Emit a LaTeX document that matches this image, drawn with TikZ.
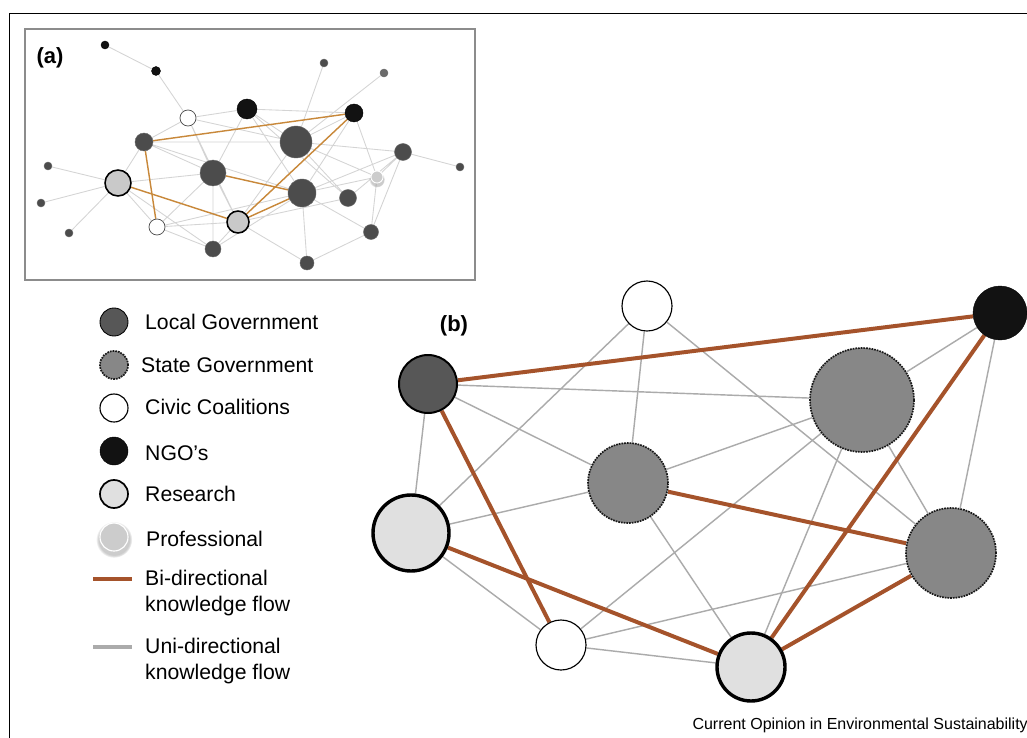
\documentclass[tikz,border=0pt]{standalone}
\usepackage{fontspec}
\setmainfont{Liberation Sans}
\usetikzlibrary{backgrounds,shadows}
\definecolor{bicol}{HTML}{A5532B}
\definecolor{bicolsmall}{HTML}{C8883A}
\definecolor{unicol}{HTML}{ABABAB}
\definecolor{unicolsmall}{HTML}{D4D4D4}

\begin{document}
\begin{tikzpicture}[x=1pt,y=-1pt,node distance={43pt},
font=\fontsize{21.2}{26}\selectfont,
main/.style={draw,circle,inner sep=0pt},
local/.style={main,fill=black!66,line width=0.7mm},
state/.style={main,fill=black!47,draw=black!90,densely dotted,line width=0.6mm},
civic/.style={main,fill=white,line width=0.4mm},
ngo/.style={main,fill=black!93},
research/.style={main,fill=black!12,line width=1.2mm},
prof/.style={main,fill=black!20,draw=white,line width=0.4mm,circular drop shadow={shadow xshift=0pt,shadow yshift=-2pt,shadow scale=1.3,opacity=0.4}},
dot/.style={main,fill=black!70,draw=black!60,line width=0.15mm},
bi/.style={bicol,line width=1.4mm},
uni/.style={unicol,line width=0.5mm},
bismall/.style={bicolsmall,line width=0.5mm},
unismall/.style={unicolsmall,line width=0.3mm},
key/.style={anchor=west,inner sep=0pt},
tag/.style={font=\bfseries\fontsize{22}{24}\selectfont}]

\useasboundingbox (0,0) rectangle (1027,738);
\begin{pgfonlayer}{background}
\fill[white] (0,0) rectangle (1027,738);
\end{pgfonlayer}

\draw[line width=0.35mm] (9,738) -- (9,13.5) -- (1027,13.5);
\draw[black!45,line width=0.55mm] (25,29) rectangle (475,280);
\node[tag] (ta) at (50,58) {(a)};
\node[tag] (tb) at (454,326) {(b)};

\node[ngo,minimum size=8pt] (a1) at (105,45) {};
\node[ngo,minimum size=9pt] (a2) at (156,71) {};
\node[civic,line width=0.25mm,draw=black!70,minimum size=16pt] (a3) at (188,118) {};
\node[ngo,minimum size=20pt] (a4) at (247,109) {};
\node[ngo,minimum size=18pt] (a5) at (354,113) {};
\node[dot,minimum size=8pt] (a6) at (324,63) {};
\node[dot,fill=black!58,minimum size=8pt] (a7) at (384,73) {};
\node[dot,minimum size=18pt] (a8) at (144,142) {};
\node[dot,minimum size=32pt] (a9) at (296,142) {};
\node[dot,minimum size=17pt] (a10) at (403,152) {};
\node[dot,minimum size=8pt] (a11) at (460,167) {};
\node[dot,minimum size=8pt] (a12) at (48,166) {};
\node[prof,line width=0.3mm,minimum size=12pt] (a13) at (377,177) {};
\node[research,line width=0.55mm,fill=black!21,minimum size=26pt] (a14) at (118,183) {};
\node[dot,minimum size=26pt] (a15) at (213,173) {};
\node[dot,minimum size=28pt] (a16) at (302,193) {};
\node[dot,minimum size=17pt] (a17) at (348,198) {};
\node[dot,minimum size=8pt] (a18) at (41,203) {};
\node[dot,minimum size=8pt] (a19) at (69,233) {};
\node[civic,line width=0.25mm,draw=black!70,minimum size=16pt] (a20) at (157,227) {};
\node[research,line width=0.55mm,fill=black!21,minimum size=22pt] (a21) at (238,222) {};
\node[dot,minimum size=15pt] (a22) at (371,232) {};
\node[dot,minimum size=16pt] (a23) at (213,249) {};
\node[dot,minimum size=14pt] (a24) at (307,263) {};

\begin{pgfonlayer}{background}
\draw[unismall] (a1) -- (a2) (a2) -- (a3) (a3) -- (a4) (a3) -- (a8) (a3) -- (a9)
  (a3) -- (a15) (a3) -- (a21) (a4) -- (a5) (a4) -- (a9) (a4) -- (a16)
  (a4) -- (a17) (a4) -- (a15) (a5) -- (a9) (a5) -- (a13) (a5) -- (a16)
  (a6) -- (a9) (a7) -- (a9) (a8) -- (a9) (a8) -- (a14) (a8) -- (a15)
  (a8) -- (a16) (a9) -- (a10) (a9) -- (a13) (a9) -- (a17) (a9) -- (a21)
  (a10) -- (a11) (a10) -- (a13) (a10) -- (a16) (a10) -- (a22) (a12) -- (a14)
  (a18) -- (a14) (a19) -- (a14) (a13) -- (a22) (a13) -- (a16) (a14) -- (a15)
  (a14) -- (a20) (a14) -- (a23) (a15) -- (a20) (a15) -- (a21) (a15) -- (a23)
  (a16) -- (a24) (a16) -- (a22) (a16) -- (a23) (a16) -- (a20) (a17) -- (a21)
  (a17) -- (a10) (a20) -- (a21) (a20) -- (a23) (a21) -- (a23) (a21) -- (a24)
  (a22) -- (a24);
\draw[bismall] (a8) -- (a5) (a8) -- (a20) (a14) -- (a21) (a15) -- (a16)
  (a21) -- (a5) (a21) -- (a16);
\end{pgfonlayer}

\node[local,line width=0.3mm,minimum size=28pt] (k1) at (114,322) {};
\node[state,minimum size=28pt] (k2) [below of=k1] {};
\node[civic,minimum size=28pt] (k3) [below of=k2] {};
\node[ngo,minimum size=28pt] (k4) [below of=k3] {};
\node[research,line width=0.6mm,minimum size=28pt] (k5) [below of=k4] {};
\node[prof,minimum size=28pt] (k6) [below of=k5] {};
\coordinate (k7) at (93,579);
\coordinate (k8) at (132,579);
\coordinate (k9) at (93,647);
\coordinate (k10) at (132,647);
\draw[bi] (k7) -- (k8);
\draw[uni,line width=1.3mm] (k9) -- (k10);

\node[key] (t1) at (145,322) {Local Government};
\node[key] (t2) at (141,365) {State Government};
\node[key] (t3) at (145,407) {Civic Coalitions};
\node[key] (t4) at (145,453) {NGO’s};
\node[key] (t5) at (145,494) {Research};
\node[key] (t6) at (146,539) {Professional};
\node[key,align=left] (t7) at (145,593) {Bi-directional\\knowledge flow};
\node[key,align=left] (t8) at (145,661) {Uni-directional\\knowledge flow};

\node[civic,minimum size=50pt] (1) at (647,306) {};
\node[ngo,minimum size=54pt] (2) at (1000,313) {};
\node[local,minimum size=58pt] (3) at (428,384) {};
\node[state,minimum size=104pt] (4) at (862,400) {};
\node[state,minimum size=80pt] (5) at (628,483) {};
\node[research,minimum size=76pt] (6) at (411,533) {};
\node[state,minimum size=90pt] (7) at (951,553) {};
\node[civic,minimum size=50pt] (8) at (561,645) {};
\node[research,minimum size=68pt] (9) at (751,667) {};

\begin{pgfonlayer}{background}
\draw[uni] (1) -- (6);
\draw[uni] (1) -- (5);
\draw[uni] (1) -- (7);
\draw[uni] (3) -- (4);
\draw[uni] (3) -- (5);
\draw[uni] (3) -- (6);
\draw[uni] (2) -- (4);
\draw[uni] (2) -- (7);
\draw[uni] (4) -- (5);
\draw[uni] (4) -- (8);
\draw[uni] (4) -- (9);
\draw[uni] (4) -- (7);
\draw[uni] (6) -- (5);
\draw[uni] (6) -- (8);
\draw[uni] (5) -- (9);
\draw[uni] (8) -- (7);
\draw[uni] (8) -- (9);
\draw[bi] (3) -- (2);
\draw[bi] (3) -- (8);
\draw[bi] (6) -- (9);
\draw[bi] (5) -- (7);
\draw[bi] (2) -- (9);
\draw[bi] (7) -- (9);
\end{pgfonlayer}

\node[anchor=base east,inner sep=0pt,font=\fontsize{16}{18}\selectfont] (src) at (1028,729) {Current Opinion in Environmental Sustainability};

\end{tikzpicture}
\end{document}
